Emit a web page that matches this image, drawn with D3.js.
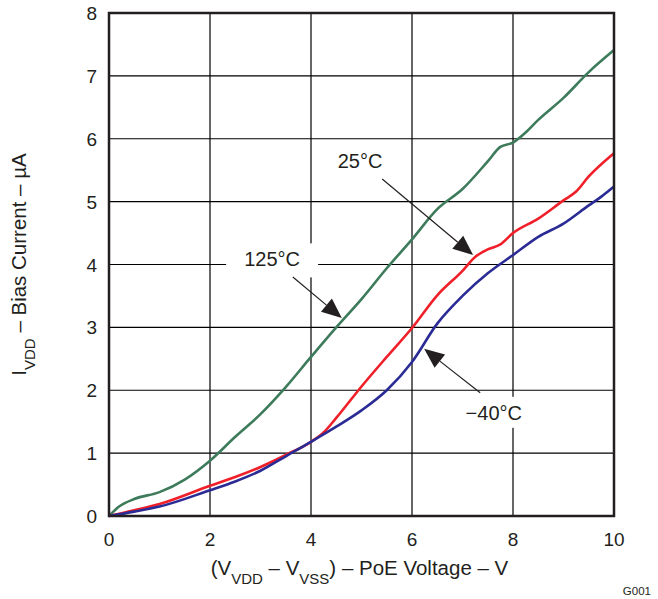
<!DOCTYPE html>
<html>
<head>
<meta charset="utf-8">
<script src="https://cdn.jsdelivr.net/npm/d3@7"></script>
<style>
  body { margin: 0; background: #fff; }
  text { font-family: "Liberation Sans", Arial, sans-serif; fill: #231f20; }
</style>
</head>
<body>
<svg id="chart" width="658" height="599"></svg>
<script>
// data (V, uA)
let volts_125 = [0, 0.2, 0.5, 1, 1.5, 2, 2.5, 3, 3.5, 4, 4.5, 5, 5.5, 6, 6.5, 7, 7.5, 7.75, 8, 8.25, 8.5, 9, 9.5, 10];
let bias_125  = [0, 0.15, 0.27, 0.38, 0.58, 0.88, 1.26, 1.62, 2.05, 2.53, 3.0, 3.45, 3.94, 4.4, 4.88, 5.2, 5.64, 5.87, 5.94, 6.1, 6.3, 6.65, 7.06, 7.41];

let volts_25 = [0, 0.5, 1, 2, 2.5, 3, 3.5, 4, 4.25, 4.5, 5, 5.5, 6, 6.5, 7, 7.25, 7.5, 7.75, 8, 8.5, 9, 9.25, 9.5, 10];
let bias_25  = [0, 0.09, 0.19, 0.48, 0.62, 0.78, 0.97, 1.18, 1.33, 1.56, 2.06, 2.53, 2.99, 3.51, 3.9, 4.12, 4.24, 4.32, 4.5, 4.73, 5.02, 5.16, 5.4, 5.77];

let volts_m40 = [0, 0.5, 1, 2, 2.5, 3, 3.5, 4, 4.5, 5, 5.5, 6, 6.5, 7, 7.5, 8, 8.5, 9, 9.5, 9.75, 10];
let bias_m40  = [0, 0.07, 0.15, 0.41, 0.55, 0.72, 0.95, 1.18, 1.42, 1.68, 2.0, 2.45, 3.06, 3.5, 3.86, 4.15, 4.44, 4.65, 4.94, 5.08, 5.24];

let x_ticks = [0, 2, 4, 6, 8, 10];
let y_ticks = [0, 1, 2, 3, 4, 5, 6, 7, 8];

// annotations in data units: label position, arrow start, arrow tip
let labels      = ["125°C", "25°C", "\u221240°C"];
let label_pos   = [[3.23, 3.97], [4.97, 5.53], [7.62, 1.53]];
let arrow_from  = [[3.64, 3.8], [5.41, 5.36], [7.35, 1.96]];
let arrow_to    = [[4.61, 3.15], [7.21, 4.15], [6.24, 2.66]];

let chart = d3.select("#chart");

let margin = {left: 109, right: 44, top: 13, bottom: 83};
let width = 658 - margin.left - margin.right,
    height = 599 - margin.top - margin.bottom;

let x = d3.scaleLinear().domain([0, 10]).range([margin.left, margin.left + width]);
let y = d3.scaleLinear().domain([0, 8]).range([margin.top + height, margin.top]);

// grid
chart.append("g")
  .selectAll("line.vg")
  .data(x_ticks).enter()
  .append("line")
    .attr("x1", function(d){ return x(d); })
    .attr("x2", function(d){ return x(d); })
    .attr("y1", y(0)).attr("y2", y(8))
    .attr("stroke", "#000").attr("stroke-width", 1.2);

chart.append("g")
  .selectAll("line.hg")
  .data(y_ticks).enter()
  .append("line")
    .attr("x1", x(0)).attr("x2", x(10))
    .attr("y1", function(d){ return y(d); })
    .attr("y2", function(d){ return y(d); })
    .attr("stroke", "#000").attr("stroke-width", 1.2);

// white boxes behind labels (they cut the grid)
let box_sizes = [[92, 34], [56, 30], [78, 31]];
chart.append("g")
  .selectAll("rect")
  .data(labels).enter()
  .append("rect")
    .attr("x", function(d, i){ return x(label_pos[i][0]) - box_sizes[i][0] / 2; })
    .attr("y", function(d, i){ return y(label_pos[i][1]) - 23; })
    .attr("width", function(d, i){ return box_sizes[i][0]; })
    .attr("height", function(d, i){ return box_sizes[i][1]; })
    .attr("fill", "#fff");

// curves
let line = d3.line()
  .x(function(d){ return x(d[0]); })
  .y(function(d){ return y(d[1]); })
  .curve(d3.curveMonotoneX);

let series = [
  {v: volts_125, b: bias_125, color: "#3d7b5b"},
  {v: volts_25,  b: bias_25,  color: "#f0202a"},
  {v: volts_m40, b: bias_m40, color: "#2b2b96"}
];

series.forEach(function(s){
  chart.append("path")
    .datum(d3.zip(s.v, s.b))
    .attr("d", line)
    .attr("fill", "none")
    .attr("stroke", s.color)
    .attr("stroke-width", 2.6)
    .attr("stroke-linejoin", "round");
});

// frame
chart.append("rect")
  .attr("x", x(0)).attr("y", y(8))
  .attr("width", x(10) - x(0)).attr("height", y(0) - y(8))
  .attr("fill", "none").attr("stroke", "#231f20").attr("stroke-width", 2.5);

// annotation text
chart.append("g")
  .selectAll("text")
  .data(labels).enter()
  .append("text")
    .attr("x", function(d, i){ return x(label_pos[i][0]); })
    .attr("y", function(d, i){ return y(label_pos[i][1]); })
    .attr("text-anchor", "middle")
    .style("font-size", "20px")
    .text(function(d){ return d; });

// arrows: thin line with filled head
labels.forEach(function(d, i){
  let x0 = x(arrow_from[i][0]), y0 = y(arrow_from[i][1]);
  let x1 = x(arrow_to[i][0]),   y1 = y(arrow_to[i][1]);
  let len = Math.hypot(x1 - x0, y1 - y0);
  let ux = (x1 - x0) / len, uy = (y1 - y0) / len;
  let head = 20, half = 8.5;
  let bx = x1 - ux * head, by = y1 - uy * head;
  chart.append("line")
    .attr("x1", x0).attr("y1", y0).attr("x2", bx).attr("y2", by)
    .attr("stroke", "#231f20").attr("stroke-width", 1.2);
  chart.append("polygon")
    .attr("points", [[x1, y1], [bx - uy * half, by + ux * half], [bx + uy * half, by - ux * half]].join(" "))
    .attr("fill", "#231f20");
});

// tick labels
chart.append("g")
  .selectAll("text")
  .data(x_ticks).enter()
  .append("text")
    .attr("x", function(d){ return x(d); })
    .attr("y", y(0) + 30)
    .attr("text-anchor", "middle")
    .style("font-size", "19px")
    .text(function(d){ return d; });

chart.append("g")
  .selectAll("text")
  .data(y_ticks).enter()
  .append("text")
    .attr("x", x(0) - 12)
    .attr("y", function(d){ return y(d) + 7; })
    .attr("text-anchor", "end")
    .style("font-size", "19px")
    .text(function(d){ return d; });

// axis titles
let xt = chart.append("text")
  .attr("x", x(5) - 2)
  .attr("y", 575)
  .attr("text-anchor", "middle")
  .style("font-size", "20.5px");
xt.append("tspan").text("(V");
xt.append("tspan").attr("baseline-shift", "sub").style("font-size", "15px").text("VDD");
xt.append("tspan").text(" \u2013 V");
xt.append("tspan").attr("baseline-shift", "sub").style("font-size", "15px").text("VSS");
xt.append("tspan").text(") \u2013 PoE Voltage \u2013 V");

let yt = chart.append("text")
  .attr("transform", "translate(26," + y(4) + ") rotate(-90)")
  .attr("text-anchor", "middle")
  .style("font-size", "20.5px");
yt.append("tspan").text("I");
yt.append("tspan").attr("baseline-shift", "sub").style("font-size", "15px").text("VDD");
yt.append("tspan").text(" \u2013 Bias Current \u2013 \u00b5A");

chart.append("text")
  .attr("x", 651).attr("y", 595)
  .attr("text-anchor", "end")
  .style("font-size", "11.5px")
  .text("G001");
</script>
</body>
</html>
